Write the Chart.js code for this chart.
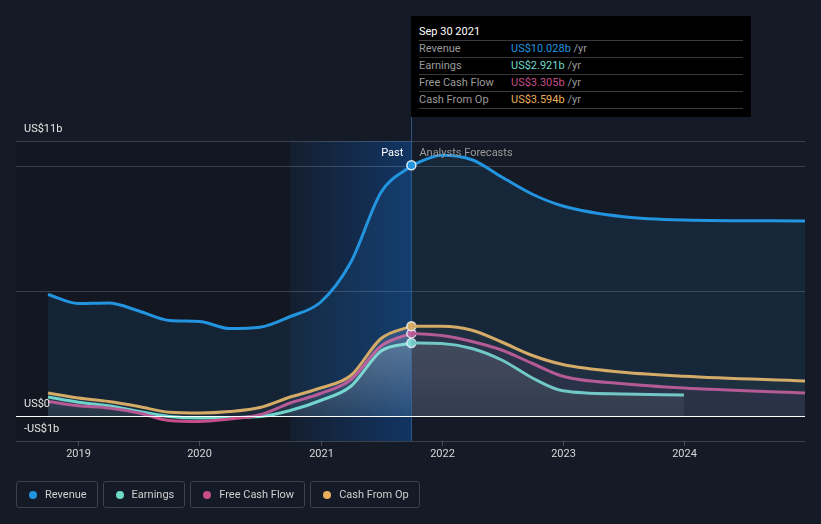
<!DOCTYPE html>
<html>
<head>
<meta charset="utf-8">
<script src="https://cdn.jsdelivr.net/npm/chart.js@4.4.1/dist/chart.umd.min.js"></script>
<style>
  html, body { margin: 0; padding: 0; background: #151b26; }
  body { width: 821px; height: 524px; position: relative; overflow: hidden; font-family: Roboto, "Noto Sans", sans-serif; }
  #chart { position: absolute; left: 0; top: 0; }
  .tip { position: absolute; left: 411px; top: 16px; width: 340px; height: 101px; background: #000; box-sizing: border-box; padding: 8px 8px 0 8px; font-size: 11px; }
  .tip .title { color: #fff; height: 16px; line-height: 16px; border-bottom: 1px solid #3a3a3a; }
  .tip .row { height: 16px; line-height: 16px; border-bottom: 1px solid #3a3a3a; color: #9a9a9a; display: flex; }
  .tip .row .lab { width: 92px; }
  .tip .row .unit { color: #9a9a9a; }
  .legend { position: absolute; left: 16px; top: 481px; display: flex; gap: 5px; }
  .legend .item { height: 27px; box-sizing: border-box; border: 1px solid #3c414b; border-radius: 3px; display: flex; align-items: center; padding: 0 10px 0 12px; color: #cfcfcf; font-size: 11px; }
  .legend .dot { width: 8px; height: 8px; border-radius: 50%; margin-right: 8px; }
</style>
</head>
<body>
<canvas id="chart" width="821" height="524"></canvas>
<div class="tip" id="tip"></div>
<div class="legend" id="legend"></div>
<script>
// quarterly trailing figures (US$ b), past
const pastX = [2018.75, 2019.0, 2019.25, 2019.5, 2019.75, 2020.0, 2020.25, 2020.5, 2020.75, 2021.0, 2021.25, 2021.5, 2021.75];
const revenuePast = [4.86, 4.50, 4.52, 4.20, 3.82, 3.78, 3.50, 3.55, 3.98, 4.55, 6.15, 8.95, 10.028];
const earningsPast = [0.76, 0.55, 0.41, 0.18, -0.02, -0.08, -0.06, -0.02, 0.22, 0.62, 1.19, 2.6, 2.921];
const fcfPast = [0.58, 0.41, 0.32, 0.12, -0.18, -0.22, -0.12, 0.05, 0.52, 0.9, 1.45, 2.8, 3.305];
const cfoPast = [0.92, 0.72, 0.58, 0.38, 0.15, 0.12, 0.18, 0.34, 0.76, 1.12, 1.62, 3.1, 3.594];

// analyst forecasts
const forecastX = [2021.75, 2022.0, 2022.25, 2022.5, 2022.75, 2023.0, 2023.5, 2024.0, 2025.0];
const revenueForecast = [10.028, 10.43, 10.25, 9.55, 8.87, 8.40, 7.97, 7.84, 7.80];
const earningsForecast = [2.921, 2.90, 2.70, 2.23, 1.52, 1.01, 0.88, 0.84];
const fcfForecast = [3.305, 3.22, 2.98, 2.63, 2.10, 1.59, 1.29, 1.12, 0.92];
const cfoForecast = [3.594, 3.59, 3.43, 2.95, 2.42, 2.06, 1.75, 1.59, 1.40];

const yearTicks = [2019, 2020, 2021, 2022, 2023, 2024];
const gridValues = [-1, 0, 5, 10, 11];
const yLabels = [[11, 'US$11b'], [0, 'US$0'], [-1, '-US$1b']];

const seriesNames = ['Revenue', 'Earnings', 'Free Cash Flow', 'Cash From Op'];
const seriesColors = ['#2394df', '#6fd9c7', '#c44d8a', '#e9ae5b'];
const tipValues = ['US$10.028b', 'US$2.921b', 'US$3.305b', 'US$3.594b'];

const pastStart = 2020.75, pastEnd = 2021.75;

const pts = (xs, ys) => ys.map((v, i) => ({ x: xs[i], y: v }));

function pastFill(ctx) {
  const chart = ctx.chart;
  if (!chart.chartArea) return 'transparent';
  const y = chart.scales.y;
  const g = chart.ctx.createLinearGradient(0, y.getPixelForValue(3.6), 0, y.getPixelForValue(0));
  g.addColorStop(0, 'rgba(255,255,255,0.14)');
  g.addColorStop(1, 'rgba(255,255,255,0.03)');
  return g;
}
function earnFill(ctx) {
  const chart = ctx.chart;
  if (!chart.chartArea) return 'transparent';
  const y = chart.scales.y;
  const g = chart.ctx.createLinearGradient(0, y.getPixelForValue(3), 0, y.getPixelForValue(0));
  g.addColorStop(0, 'rgba(255,255,255,0.14)');
  g.addColorStop(1, 'rgba(255,255,255,0.06)');
  return g;
}

function line(data, color, fill, withPoint) {
  return {
    data: data,
    borderColor: color,
    borderWidth: 3,
    backgroundColor: fill,
    fill: 'origin',
    cubicInterpolationMode: 'monotone',
    pointRadius: (c) => (withPoint && c.dataIndex === data.length - 1 ? 4.5 : 0),
    pointBackgroundColor: color,
    pointBorderColor: 'rgba(255,255,255,0.85)',
    pointBorderWidth: 1.5,
  };
}

const datasets = [
  line(pts(pastX, revenuePast), seriesColors[0], 'rgba(35,148,223,0.10)', true),
  line(pts(forecastX, revenueForecast), seriesColors[0], 'rgba(35,148,223,0.10)', false),
  line(pts(forecastX, cfoForecast), seriesColors[3], 'rgba(210,210,190,0.05)', false),
  line(pts(forecastX, fcfForecast), seriesColors[2], 'rgba(200,90,150,0.07)', false),
  line(pts(forecastX, earningsForecast), seriesColors[1], earnFill, false),
  line(pts(pastX, cfoPast), seriesColors[3], pastFill, true),
  line(pts(pastX, fcfPast), seriesColors[2], pastFill, true),
  line(pts(pastX, earningsPast), seriesColors[1], pastFill, true),
];

const decor = {
  id: 'decor',
  beforeDraw(chart) {
    const { ctx, chartArea: a, scales: { x } } = chart;
    const x0 = x.getPixelForValue(pastStart), x1 = x.getPixelForValue(pastEnd);
    ctx.save();
    ctx.fillStyle = 'rgba(0,0,0,0.13)';
    ctx.fillRect(a.left, a.top, x0 - a.left, a.bottom - a.top);
    const g = ctx.createLinearGradient(x0, 0, x1, 0);
    g.addColorStop(0, 'rgba(16,70,140,0.10)');
    g.addColorStop(1, 'rgba(16,70,140,0.6)');
    ctx.fillStyle = g;
    ctx.fillRect(x0, a.top, x1 - x0, a.bottom - a.top);
    ctx.restore();
  },
  beforeDatasetsDraw(chart) {
    const { ctx, chartArea: a, scales: { x } } = chart;
    const x1 = x.getPixelForValue(pastEnd);
    ctx.save();
    ctx.strokeStyle = 'rgba(60,105,160,0.7)';
    ctx.lineWidth = 1;
    ctx.beginPath();
    ctx.moveTo(Math.round(x1) + 0.5, 16);
    ctx.lineTo(Math.round(x1) + 0.5, a.bottom);
    ctx.stroke();
    ctx.restore();
  },
  afterDatasetsDraw(chart) {
    const { ctx, chartArea: a, scales: { x, y } } = chart;
    ctx.save();
    // zero line
    const y0 = Math.round(y.getPixelForValue(0)) + 0.5;
    ctx.strokeStyle = '#ffffff';
    ctx.lineWidth = 1.2;
    ctx.beginPath();
    ctx.moveTo(a.left, y0);
    ctx.lineTo(a.right, y0);
    ctx.stroke();

    ctx.font = '11px Roboto, "Noto Sans", sans-serif';
    ctx.textBaseline = 'middle';
    // y labels
    ctx.fillStyle = '#e6e6e6';
    ctx.textAlign = 'left';
    yLabels.forEach(([v, t]) => ctx.fillText(t, a.left + 8, y.getPixelForValue(v) - 11.5));
    // x labels and small ticks
    ctx.textAlign = 'center';
    ctx.strokeStyle = 'rgba(255,255,255,0.2)';
    ctx.lineWidth = 1;
    yearTicks.forEach((yr) => {
      const px = Math.round(x.getPixelForValue(yr)) + 0.5;
      ctx.beginPath();
      ctx.moveTo(px, a.bottom);
      ctx.lineTo(px, a.bottom + 5);
      ctx.stroke();
      ctx.fillStyle = '#d6d6d6';
      ctx.fillText(String(yr), px, a.bottom + 13.5);
    });
    // past / forecast captions
    const xe = x.getPixelForValue(pastEnd);
    ctx.textAlign = 'right';
    ctx.fillStyle = '#ffffff';
    ctx.fillText('Past', xe - 8, a.top + 12);
    ctx.textAlign = 'left';
    ctx.fillStyle = '#9a9a9a';
    ctx.fillText('Analysts Forecasts', xe + 8, a.top + 12);
    ctx.restore();
  },
};

new Chart(document.getElementById('chart'), {
  type: 'line',
  data: { datasets },
  options: {
    responsive: false,
    animation: false,
    layout: { padding: { left: 16, right: 16, top: 141, bottom: 75 } },
    plugins: { legend: { display: false }, tooltip: { enabled: false } },
    scales: {
      x: {
        type: 'linear',
        min: 2018.4855,
        max: 2025.0,
        grid: { display: false },
        border: { display: false },
        ticks: { display: false },
      },
      y: {
        min: -1,
        max: 11,
        afterBuildTicks: (s) => { s.ticks = gridValues.map((v) => ({ value: v })); },
        grid: {
          drawTicks: false,
          color: (c) => (c.tick && c.tick.value === 0 ? 'rgba(0,0,0,0)' : 'rgba(255,255,255,0.17)'),
        },
        border: { display: false },
        ticks: { display: false },
      },
    },
  },
  plugins: [decor],
});

// tooltip box
const tip = document.getElementById('tip');
let html = '<div class="title">Sep 30 2021</div>';
seriesNames.forEach((n, i) => {
  html += '<div class="row"><span class="lab">' + n + '</span><span style="color:' + seriesColors[i] + '">' +
    tipValues[i] + '</span><span class="unit">&nbsp;/yr</span></div>';
});
tip.innerHTML = html;

// legend
const legend = document.getElementById('legend');
seriesNames.forEach((n, i) => {
  const el = document.createElement('div');
  el.className = 'item';
  el.innerHTML = '<span class="dot" style="background:' + seriesColors[i] + '"></span>' + n;
  legend.appendChild(el);
});
</script>
</body>
</html>
